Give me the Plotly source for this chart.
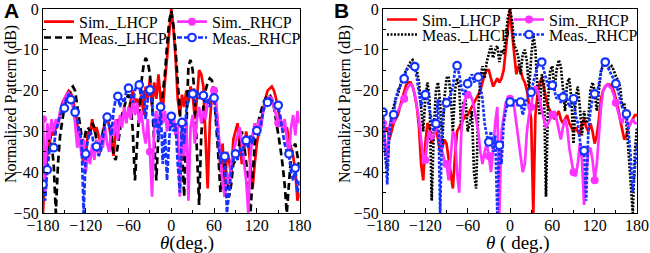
import plotly.graph_objects as go

# ---------------- data ----------------
theta = list(range(-180, 181, 3))  # angle grid (deg)

# Panel A
a_sim_lhcp = [-50, -40, -36, -33, -30, -31, -29, -28, -25, -23,
              -22, -21, -20, -20.5, -22, -25, -28, -31, -34, -38,
              -36, -30, -31, -27, -30, -29, -31, -33, -30, -28,
              -26, -29, -32, -36, -30, -27, -28, -26, -25, -27,
              -25, -22, -20, -23, -22, -24, -21, -26, -19, -22,
              -17, -24, -18, -22, -16, -22, -25, -18, -12, -5,
              0, -5, -12, -22, -26, -21, -24, -20, -23, -19,
              -21, -27, -22, -15, -16, -19, -30, -44, -28, -21,
              -20, -24, -30, -40, -33, -46, -35, -37, -41, -32,
              -30, -28, -33, -38, -35, -30, -33, -39, -44, -38,
              -33, -30, -27, -25, -22, -20, -19.5, -19, -20, -22,
              -25, -27, -29, -30, -29, -32, -34, -36, -40, -47,
              -45]
a_meas_lhcp = [-46, -40, -34, -30, -33, -38, -50, -38, -31, -27,
               -24, -22, -21, -19.5, -19, -20, -24, -27, -31, -33,
               -30, -29, -30, -28, -29, -32, -36, -34, -30, -27,
               -26, -27, -30, -36, -37, -33, -29, -26, -24, -22,
               -21, -23, -30, -42, -33, -24, -18, -14, -12, -13,
               -16, -23, -32, -42, -30, -25, -20, -16, -9, -3,
               -0.5, -4, -10, -18, -25, -33, -46, -28, -14, -12.5,
               -15, -22, -35, -48, -31, -24, -20, -18, -17, -17.5,
               -21, -28, -36, -45, -40, -38, -41, -46, -43, -38,
               -37, -35, -32, -30, -33, -37, -42, -50, -40, -33,
               -29, -27, -25, -23, -22, -21, -21, -22, -24, -27,
               -30, -34, -38, -43, -50, -42, -36, -34, -33, -36,
               -39]
a_sim_rhcp = [-27, -45, -28, -32, -27, -30, -27, -29, -25, -24,
              -22, -21, -20.5, -22, -24, -28, -34, -30, -36, -32,
              -40, -35, -38, -33, -37, -32, -36, -31, -34, -29,
              -33, -35, -29, -31, -27, -32, -26, -29, -24, -28,
              -24, -27, -22, -26, -23, -28, -25, -30, -33, -27,
              -35, -46, -29, -25, -31, -23, -28, -25, -30, -27,
              -29, -26, -31, -28, -46, -30, -36, -27, -47, -29,
              -26, -33, -27, -24, -28, -25, -27, -23, -22, -21,
              -20, -23, -30, -38, -43, -46, -40, -43, -38, -35,
              -33, -31, -29, -33, -38, -42, -50, -36, -31, -28,
              -30, -27, -29, -25, -23, -22, -21.5, -22, -24, -26,
              -28, -26, -30, -27, -31, -36, -29, -26, -31, -25,
              -28]
a_meas_rhcp = [-43, -47, -39.4, -35, -33, -34, -30, -28, -26, -25,
               -24.3, -21.5, -21, -22.2, -23, -25.3, -27, -30, -32, -50,
               -35.5, -32, -30, -31, -34, -33.7, -36, -35, -31, -28,
               -26.5, -29, -31, -25, -22, -21.4, -24, -22, -23, -20,
               -19.4, -21, -23, -20, -18.5, -18.6, -22, -20, -27, -22,
               -19.8, -23, -29, -27, -32, -24, -38, -30, -42, -32,
               -26.3, -30, -28, -38, -45, -27.8, -33, -25, -22, -21,
               -20.8, -23, -20, -22, -21, -21.2, -23, -22, -24, -22,
               -21.8, -27, -33, -38, -36, -36.1, -50, -45, -40, -37,
               -35.5, -37, -34, -36, -33, -32.2, -34, -31, -33, -30,
               -29.8, -31, -28, -25, -23.5, -22.9, -22, -22.5, -23, -23.5,
               -23.6, -27, -30, -33, -35, -35.5, -40, -42, -39, -45,
               -42]

# Panel B
b_sim_lhcp = [-28, -30, -29, -32, -30, -28, -27, -26, -24, -22,
              -20, -18.5, -18, -18, -19, -21, -24, -29, -38, -42,
              -33, -28, -29, -33, -31, -29, -32, -35, -34, -32,
              -33, -37, -41, -44, -36, -30, -29, -28, -27, -26,
              -26, -25, -24, -23, -22, -21, -20, -18, -16, -15,
              -15, -17, -19, -18, -17, -18, -17, -15, -10, -4,
              0, -6, -12, -16, -14, -15, -17, -18, -20, -23,
              -27, -50, -26, -21, -18, -17, -19, -22, -24, -25,
              -26, -27, -26, -25, -27, -28, -27, -26, -28, -29,
              -30, -29, -30, -31, -28, -27, -29, -30, -28, -30,
              -33, -31, -27, -22, -20, -19, -18.5, -18.5, -19, -20,
              -22, -24, -27, -30, -32, -31, -29, -28, -27, -26,
              -26]
b_meas_lhcp = [-27, -36, -39, -30, -26, -24, -22, -21, -19, -17,
               -16, -15, -14, -13, -12.5, -13.5, -15, -18, -24, -30,
               -22, -18, -22, -47, -30, -20, -18, -23, -33, -22,
               -17, -16.5, -21, -30, -20, -17, -19, -30, -23, -22,
               -30, -28, -25, -40, -44, -25, -17, -14, -17, -13,
               -11, -9, -12, -10, -9, -13, -10, -11, -7, -2,
               0, -3, -9, -10, -12, -16, -11, -10, -13, -20,
               -12, -6, -10, -20, -26, -16, -18, -46, -22, -15,
               -14, -20, -15, -12.5, -14, -19, -25, -18, -17, -22,
               -33, -22, -19, -24, -31, -25, -28, -27, -20, -18,
               -20, -25, -19, -15, -14, -13.5, -14, -14.5, -14, -15,
               -16.5, -17.5, -19, -24, -23, -28, -35, -44, -50, -35,
               -29]
b_sim_rhcp = [-28, -33, -37, -29, -27, -28, -26, -25, -24, -23,
              -22, -20, -19, -18.5, -19, -21, -24, -27, -32, -36,
              -37, -32, -30, -32, -31, -29, -30, -33, -35, -37,
              -38, -42, -35, -30, -31, -40, -45, -30, -24, -22,
              -21, -21, -22, -24, -27, -30, -35, -38, -35, -33,
              -36, -40, -35, -28, -24, -50, -30, -27, -23, -23,
              -22, -22.5, -24, -28, -32, -35, -40, -38, -30, -26,
              -24, -20, -19, -20, -22, -25, -27, -29, -28, -27,
              -26, -25, -27, -30, -32, -29, -27, -29, -34, -37,
              -40, -41, -38, -33, -37, -48, -40, -35, -34, -37,
              -42, -38, -31, -24, -20, -19, -18.5, -19, -19.5, -21,
              -23, -25, -27, -28, -26, -27, -29, -28, -27, -28,
              -28]
b_meas_rhcp = [-25.3, -35, -43, -30, -27, -25.9, -22, -20, -19, -18,
               -17.1, -15, -14.5, -14, -14, -14.1, -17, -20, -24, -22,
               -21, -22, -25, -28, -30, -28.1, -22, -50, -27, -24,
               -23, -22, -21, -19, -15, -13.9, -16, -19, -21, -20,
               -18.3, -17, -16, -18, -17, -16.7, -19, -22, -28, -31,
               -32.6, -30, -35, -31, -50, -33.4, -38, -28, -25, -23,
               -22.8, -24, -22, -23, -24, -22.8, -26, -24, -22, -21,
               -20.4, -18, -16, -14, -13, -13, -15, -17, -19, -18,
               -18.7, -20, -22, -21, -23, -21.6, -20, -22, -24, -23,
               -22, -26, -28, -32, -36, -34.7, -47, -30, -25, -22,
               -20.8, -21, -18, -15, -13, -13, -14, -15, -16, -17,
               -18.3, -20, -22, -24, -25, -25.7, -30, -36, -45, -38,
               -33]

# angles carrying symbols
a_rhcp_sim_marks = [-180, -30, 60, 150]
a_rhcp_meas_marks = [-180, -174, -165, -150, -141, -135, -120, -105, -90, -75, -60, -45,
                     -30, -15, 0, 15, 30, 45, 60, 75, 90, 105, 120, 135, 150, 165, 174]
b_rhcp_sim_marks = [-180, -150, -120, -90, -60, -30, 0, 30, 60, 90, 120, 150]
b_rhcp_meas_marks = list(range(-180, 166, 15))

x_ticks = [-180, -120, -60, 0, 60, 120, 180]
y_ticks = [-50, -40, -30, -20, -10, 0]

names = ["Sim._LHCP", "Meas._LHCP", "Sim._RHCP", "Meas._RHCP"]

# ---------------- styling ----------------
RED = "#ff0000"
BLACK = "#000000"
MAG = "#ff33ff"
BLUE = "#1432ff"
SERIF = "Liberation Serif"
SANS = "Liberation Sans"
LW = 2.7

W, H = 650, 253
ML, MR, MT, MB = 43, 13, 9, 40
PW = W - ML - MR
PH = H - MT - MB

fig = go.Figure()


def pick(vals, marks):
    xs = [t for t in marks]
    ys = [vals[theta.index(t)] for t in marks]
    return xs, ys


def panel(xa, ya, data, dashes, mag_marks, blue_marks, legs):
    red, black, mag, blue = data
    fig.add_trace(go.Scatter(x=theta, y=red, mode="lines", xaxis=xa, yaxis=ya,
                             line=dict(color=RED, width=LW), showlegend=False))
    fig.add_trace(go.Scatter(x=theta, y=black, mode="lines", xaxis=xa, yaxis=ya,
                             line=dict(color=BLACK, width=LW, dash=dashes[0]), showlegend=False))
    fig.add_trace(go.Scatter(x=theta, y=mag, mode="lines", xaxis=xa, yaxis=ya,
                             line=dict(color=MAG, width=LW), showlegend=False))
    mx, my = pick(mag, mag_marks)
    fig.add_trace(go.Scatter(x=mx, y=my, mode="markers", xaxis=xa, yaxis=ya,
                             marker=dict(color=MAG, size=8), showlegend=False))
    fig.add_trace(go.Scatter(x=theta, y=blue, mode="lines", xaxis=xa, yaxis=ya,
                             line=dict(color=BLUE, width=LW, dash=dashes[1]), showlegend=False))
    bx, by = pick(blue, blue_marks)
    fig.add_trace(go.Scatter(x=bx, y=by, mode="markers", xaxis=xa, yaxis=ya,
                             marker=dict(color="white", size=7.5, line=dict(color=BLUE, width=2.2)),
                             showlegend=False))
    styles = [
        dict(mode="lines", line=dict(color=RED, width=LW)),
        dict(mode="lines", line=dict(color=BLACK, width=LW, dash=dashes[0])),
        dict(mode="lines+markers", line=dict(color=MAG, width=LW), marker=dict(color=MAG, size=8)),
        dict(mode="lines+markers", line=dict(color=BLUE, width=LW, dash=dashes[1]),
             marker=dict(color="white", size=7.5, line=dict(color=BLUE, width=2.2))),
    ]
    for nm, st, lg in zip(names, styles, legs):
        fig.add_trace(go.Scatter(x=[None], y=[None], name=nm, xaxis=xa, yaxis=ya,
                                 showlegend=True, legend=lg, **st))


panel("x", "y", (a_sim_lhcp, a_meas_lhcp, a_sim_rhcp, a_meas_rhcp), ("7px,4px", "5px,2px"),
      a_rhcp_sim_marks, a_rhcp_meas_marks, ["legend", "legend2", "legend3", "legend4"])
panel("x2", "y2", (b_sim_lhcp, b_meas_lhcp, b_sim_rhcp, b_meas_rhcp), ("2px,1.5px", "3px,1.5px"),
      b_rhcp_sim_marks, b_rhcp_meas_marks, ["legend5", "legend6", "legend7", "legend8"])

axis_common = dict(showline=True, linecolor="black", linewidth=1.3, mirror=True,
                   ticks="inside", ticklen=5, tickwidth=1.2, tickcolor="black",
                   showgrid=False, zeroline=False,
                   tickfont=dict(family=SERIF, size=16, color="black"))
xa = dict(axis_common, range=[-180, 180], tickvals=x_ticks, ticklabelstandoff=-2,
          minor=dict(ticks="inside", ticklen=3, dtick=30, tick0=0, tickcolor="black", showgrid=False))
ya = dict(axis_common, range=[-50, 0], tickvals=y_ticks,
          minor=dict(ticks="inside", ticklen=3, dtick=5, tick0=0, tickcolor="black", showgrid=False))

fig.update_layout(
    width=W, height=H,
    margin=dict(l=ML, r=MR, t=MT, b=MB, autoexpand=False),
    paper_bgcolor="white", plot_bgcolor="white",
    xaxis=dict(xa, domain=[0, 0.432], anchor="y"),
    yaxis=dict(ya, domain=[0, 1], anchor="x"),
    xaxis2=dict(xa, domain=[0.5724, 1], anchor="y2"),
    yaxis2=dict(ya, domain=[0, 1], anchor="x2"),
    font=dict(family=SERIF, color="black"),
)

# one legend per entry; top edge in container pixels (entry centre sits ~17 px below)
leg_pos = {
    "legend": (39, 4.8), "legend2": (39, 20.6), "legend3": (172, 4.8), "legend4": (172, 20.6),
    "legend5": (382, 2.6), "legend6": (382, 17.6), "legend7": (509, 2.6), "legend8": (509, 17.6),
}
for k, (px, py) in leg_pos.items():
    fig.update_layout({k: dict(x=px / W, y=1 - py / H, xref="container", yref="container",
                               xanchor="left", yanchor="top", bgcolor="rgba(0,0,0,0)",
                               borderwidth=0, font=dict(family=SERIF, size=16, color="black"))})


def px2paper(px, py):
    return (px - ML) / PW, 1 - (py - MT) / PH


annots = [
    ("<b>A</b>", 11.5, 11, 0, 21, SANS),
    ("<b>B</b>", 341, 10.5, 0, 21, SANS),
    ("Normalized Pattern (dB)", 11, 104, -90, 16, SERIF),
    ("Normalized Pattern (dB)", 345, 104, -90, 16, SERIF),
    ("<i>θ</i>(deg.)", 187, 242.5, 0, 19, SERIF),
    ("<i>θ</i> ( deg.)", 518, 242.5, 0, 19, SERIF),
]
for txt, px, py, ang, sz, fam in annots:
    x, y = px2paper(px, py)
    fig.add_annotation(text=txt, x=x, y=y, xref="paper", yref="paper", showarrow=False,
                       xanchor="center", yanchor="middle", textangle=ang,
                       font=dict(family=fam, size=sz, color="black"))

fig.write_html("out.html", config={"displayModeBar": False},
               post_script="document.body.style.margin='0';")
